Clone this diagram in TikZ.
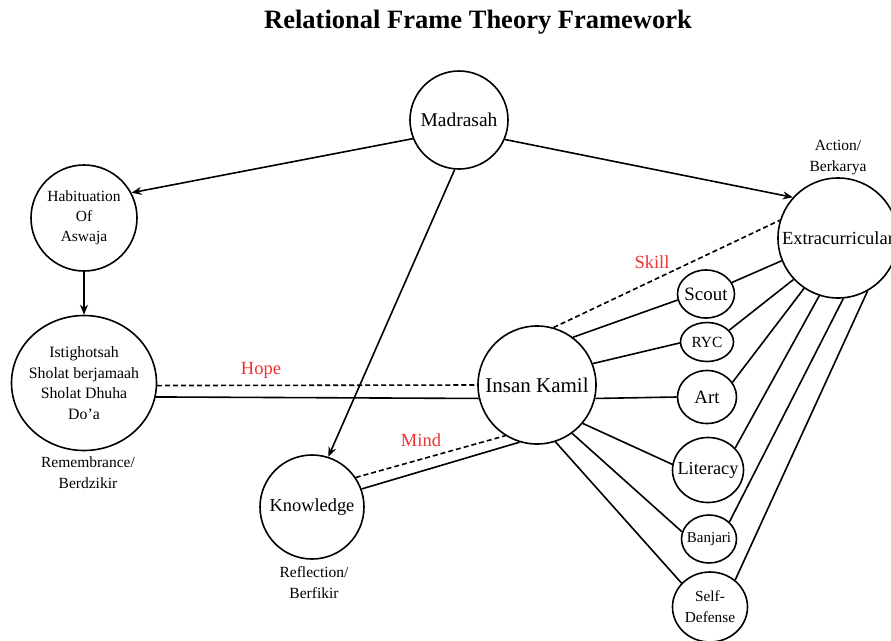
\documentclass[tikz,border=0pt]{standalone}
\usepackage{fontspec}
\setmainfont{Liberation Serif}
\usetikzlibrary{shapes.geometric,arrows.meta}
\definecolor{lblred}{RGB}{240,50,50}
\begin{document}
\begin{tikzpicture}[x=1pt,y=-1pt,
  every node/.style={inner sep=0pt},
  circ/.style={circle,draw,line width=1.6pt,align=center},
  ell/.style={ellipse,draw,line width=1.6pt},
  conn/.style={line width=1.6pt},
  arr/.style={line width=1.6pt,-{Stealth[length=10pt,width=8pt]}},
  dashconn/.style={line width=1.6pt,dash pattern=on 5pt off 3pt},
  redlbl/.style={text=lblred,font=\fontsize{18.5}{22}\selectfont},
  captext/.style={align=center,font=\fontsize{15.5}{21}\selectfont}]
\clip (0,0) rectangle (891,640);
\node[font=\bfseries\fontsize{26.5}{30}\selectfont] (title) at (478,22) {Relational Frame Theory Framework};

% main circles
\node[circ,minimum size=98pt,font=\fontsize{19.5}{23}\selectfont] (mad) at (459,120) {Madrasah};
\node[circ,minimum size=106pt,font=\fontsize{15.5}{20}\selectfont] (hab) at (84,218) {Habituation\\Of\\Aswaja};
\node[ell,minimum width=145pt,minimum height=135pt,label={[font=\fontsize{15.8}{20.5}\selectfont,align=center]center:Istighotsah\\Sholat berjamaah\\Sholat Dhuha\\Do’a}] (ist) at (84,383) {};
\node[circ,minimum size=118pt,font=\fontsize{21}{25}\selectfont] (ik) at (537,385) {Insan Kamil};
\node[circ,minimum size=120pt,font=\fontsize{18.5}{22}\selectfont] (ext) at (838,238) {Extracurricular};
\node[circ,minimum size=104pt,font=\fontsize{18.4}{22}\selectfont] (kno) at (312,507) {Knowledge};

% small ellipses
\node[ell,minimum width=57pt,minimum height=48pt,label={[font=\fontsize{18.9}{22}\selectfont]center:Scout}] (scout) at (706,294) {};
\node[ell,minimum width=53pt,minimum height=39pt,label={[font=\fontsize{15.5}{19}\selectfont]center:RYC}] (ryc) at (707,342) {};
\node[ell,minimum width=59pt,minimum height=53pt,label={[font=\fontsize{18.8}{22}\selectfont]center:Art}] (art) at (707,397) {};
\node[ell,minimum width=71pt,minimum height=65pt,label={[font=\fontsize{18.3}{22}\selectfont]center:Literacy}] (lit) at (708,470) {};
\node[ell,minimum width=55pt,minimum height=48pt,label={[font=\fontsize{15}{18}\selectfont]center:Banjari}] (ban) at (709,539) {};
\node[ell,minimum width=75pt,minimum height=70pt,label={[font=\fontsize{15.3}{21}\selectfont,align=center]center:Self-\\Defense}] (sd) at (710,607) {};

% captions
\node[captext] (capRem) at (88,473) {Remembrance/\\Berdzikir};
\node[captext] (capAct) at (838,158) {Action/\\Berkarya};
\node[captext] (capRef) at (314,583) {Reflection/\\Berfikir};

% arrows from Madrasah
\draw[arr] (mad.202) -- (hab.28);
\draw[arr] (mad.337) -- (ext.138);
\draw[arr] (mad.265) -- (kno.72);
\draw[arr] (hab.south) -- (ist.north);

% Hope
\draw[dashconn] (ist.-2) -- (ik.180);
\draw[conn] (ist.-11) -- (ik.193);
\node[redlbl] (hope) at (261,370) {Hope};

% Mind
\draw[dashconn] (kno.34) -- (ik.238);
\draw[conn] (kno.20) -- (ik.253);
\node[redlbl] (mind) at (421,440) {Mind};

% Skill
\draw[dashconn] (ik.74) -- (ext.163);
\node[redlbl] (skill) at (652,262) {Skill};

% Insan Kamil to activities
\draw[conn] (ik.53) -- (scout.192);
\draw[conn] (ik.21) -- (ryc.182);
\draw[conn] (ik.-13) -- (art.180);
\draw[conn] (ik.-40) -- (lit.171);
\draw[conn] (ik.-54) -- (ban.165);
\draw[conn] (ik.-72) -- (sd.140);

% activities to Extracurricular
\draw[conn] (scout.24) -- (ext.202);
\draw[conn] (ryc.28) -- (ext.223);
\draw[conn] (art.30) -- (ext.236);
\draw[conn] (lit.39) -- (ext.252);
\draw[conn] (ban.40) -- (ext.275);
\draw[conn] (sd.47) -- (ext.299);
\end{tikzpicture}
\end{document}
